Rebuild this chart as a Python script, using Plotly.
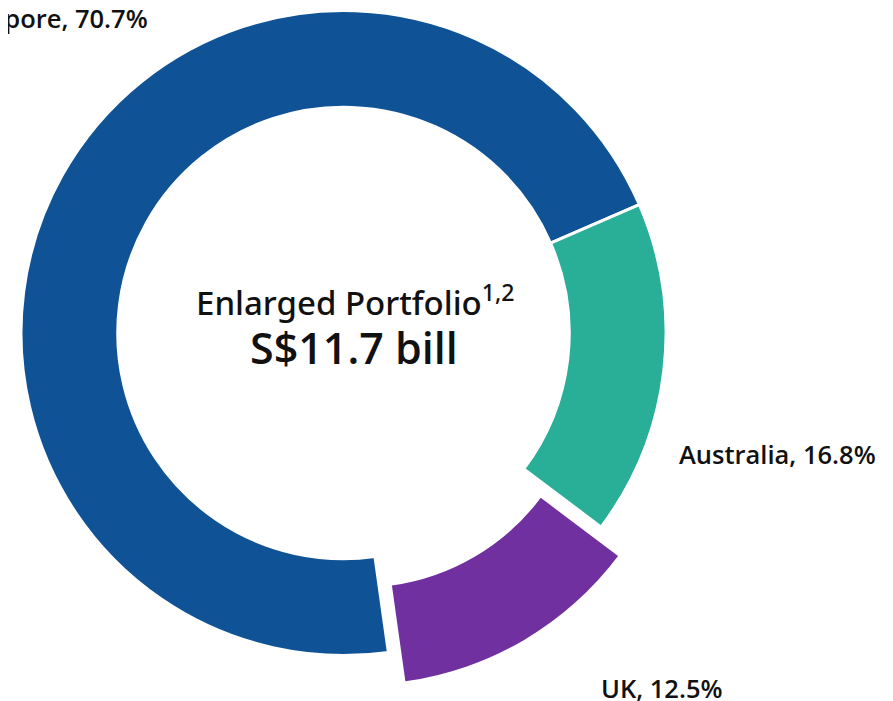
import plotly.graph_objects as go

# ---- data ----
regions = ["Singapore", "Australia", "UK"]
shares = [70.7, 16.8, 12.5]
colors = ["#0F5396", "#29AE97", "#7030A0"]
center_title = "Enlarged Portfolio"
center_note = "1,2"
center_value = "S$11.7 bill"

# page body has an 8px default margin; work in window pixels and convert
OFF = 8
W, H = 893 - OFF, 701 - OFF


def px(x):
    return (x - OFF) / W


def py(y):
    return 1 - (y - OFF) / H


# geometry (window pixels)
cx, cy, r = 343.5, 333.0, 322.5
shift_x, shift_y = 17.0, 29.0
pulled = "UK"

base_colors = [c if reg != pulled else "rgba(0,0,0,0)" for reg, c in zip(regions, colors)]
base_lw = [0 if reg == pulled else 3 for reg in regions]
pull_colors = [c if reg == pulled else "rgba(0,0,0,0)" for reg, c in zip(regions, colors)]
pull_lw = [0 for reg in regions]

common = dict(
    labels=regions,
    values=shares,
    hole=0.70,
    sort=False,
    direction="clockwise",
    rotation=172,
    textinfo="none",
    hoverinfo="label+percent",
    showlegend=False,
)

fig = go.Figure()
fig.add_trace(go.Pie(
    **common,
    marker=dict(colors=base_colors, line=dict(color="white", width=base_lw)),
    domain=dict(x=[px(cx - r), px(cx + r)], y=[py(cy + r), py(cy - r)]),
))
fig.add_trace(go.Pie(
    **common,
    marker=dict(colors=pull_colors, line=dict(color="white", width=pull_lw)),
    domain=dict(x=[px(cx - r + shift_x), px(cx + r + shift_x)],
                y=[py(cy + r + shift_y), py(cy - r + shift_y)]),
))

label_font = dict(family="Open Sans", size=25.5, color="#111111", weight=600)
label_pos = {
    "Singapore": (150, 18, "right"),
    "Australia": (677, 454, "left"),
    "UK": (599, 688, "left"),
}
annotations = []
for reg, val in zip(regions, shares):
    x, y, anchor = label_pos[reg]
    annotations.append(dict(
        x=px(x), y=py(y), xref="paper", yref="paper",
        text=f"{reg}, {val}%", showarrow=False,
        xanchor=anchor, yanchor="middle", font=label_font,
    ))

annotations.append(dict(
    x=px(355), y=py(300), xref="paper", yref="paper",
    text=f"{center_title}<sup>{center_note}</sup>", showarrow=False,
    xanchor="center", yanchor="middle",
    font=dict(family="Noto Sans", size=33, color="#111111", weight=500),
))
annotations.append(dict(
    x=px(354), y=py(347), xref="paper", yref="paper",
    text=center_value, showarrow=False,
    xanchor="center", yanchor="middle",
    font=dict(family="Open Sans", size=43, color="#111111", weight=600),
))

fig.update_layout(
    width=W, height=H,
    margin=dict(l=0, r=0, t=0, b=0),
    paper_bgcolor="white",
    plot_bgcolor="white",
    annotations=annotations,
)

fig.write_html("out.html")
